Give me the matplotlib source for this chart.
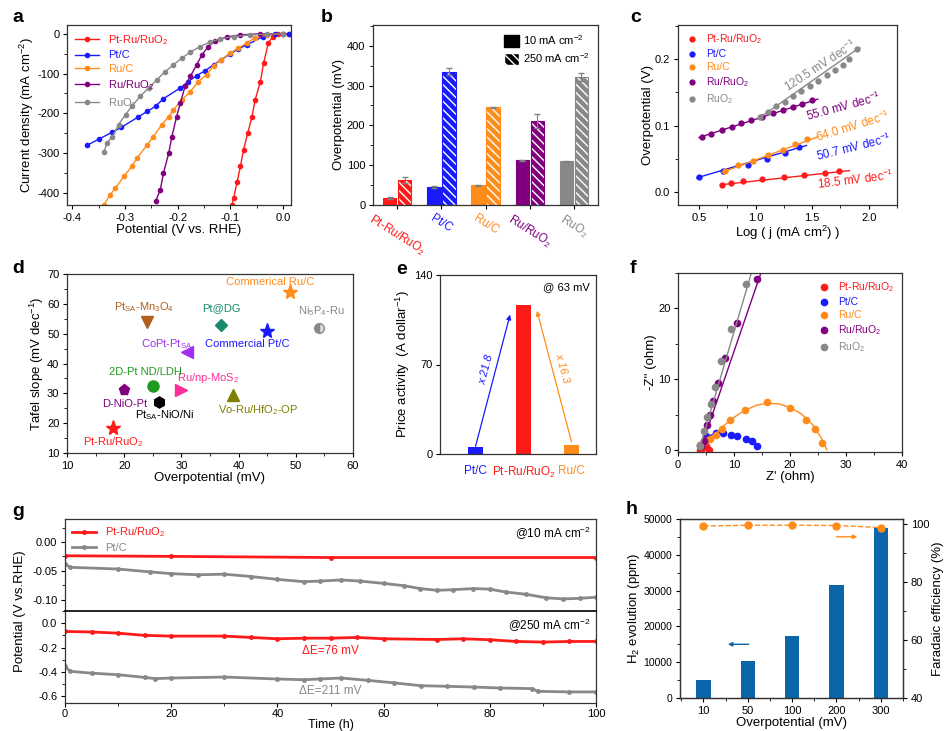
import matplotlib
matplotlib.use("Agg")
import matplotlib.pyplot as plt
from matplotlib.patches import Patch
from matplotlib.lines import Line2D
from matplotlib.ticker import MultipleLocator

plt.rcParams['font.family'] = ['Liberation Sans', 'DejaVu Sans']
plt.rcParams['mathtext.fontset'] = 'custom'
plt.rcParams['mathtext.rm'] = 'Liberation Sans'
plt.rcParams['mathtext.it'] = 'Liberation Sans:italic'
plt.rcParams['mathtext.bf'] = 'Liberation Sans:bold'
plt.rcParams['mathtext.default'] = 'regular'
plt.rcParams['axes.unicode_minus'] = False
plt.rcParams['font.size'] = 8
plt.rcParams['axes.linewidth'] = 0.9
plt.rcParams['axes.edgecolor'] = '#333333'
plt.rcParams['xtick.major.size'] = 3
plt.rcParams['ytick.major.size'] = 3
plt.rcParams['xtick.minor.size'] = 2
plt.rcParams['ytick.minor.size'] = 2
plt.rcParams['xtick.major.pad'] = 2.5
plt.rcParams['ytick.major.pad'] = 2.5
plt.rcParams['hatch.linewidth'] = 1.0

RED = '#ff1a1a'
BLUE = '#1a1aff'
ORANGE = '#ff8c1a'
PURPLE = '#800080'
GRAY = '#888888'
LAB = 9.5

# ---- a: LSV curves
a_names = ['Pt-Ru/RuO$_2$', 'Pt/C', 'Ru/C', 'Ru/RuO$_2$', 'RuO$_2$']
a_colors = [RED, BLUE, ORANGE, PURPLE, GRAY]
a_v = [
    [0.012, -0.010, -0.019, -0.028, -0.037, -0.043, -0.053, -0.059, -0.067, -0.075, -0.081, -0.087, -0.094, -0.097],
    [0.012, -0.016, -0.038, -0.069, -0.085, -0.101, -0.117, -0.132, -0.148, -0.164, -0.180, -0.195, -0.227, -0.242,
     -0.258, -0.275, -0.307, -0.324, -0.350, -0.372],
    [0.0, -0.031, -0.054, -0.069, -0.085, -0.101, -0.117, -0.132, -0.145, -0.161, -0.176, -0.192, -0.208, -0.217,
     -0.230, -0.246, -0.258, -0.277, -0.287, -0.302, -0.318, -0.328, -0.340],
    [0.0, -0.044, -0.082, -0.107, -0.129, -0.142, -0.154, -0.164, -0.176, -0.186, -0.195, -0.202, -0.211, -0.217,
     -0.227, -0.233, -0.242],
    [0.0, -0.031, -0.063, -0.094, -0.120, -0.139, -0.157, -0.176, -0.192, -0.208, -0.224, -0.239, -0.255, -0.271,
     -0.287, -0.299, -0.312, -0.324, -0.334, -0.340],
]
a_j = [
    [0, -1, -7, -23, -74, -120, -166, -208, -249, -291, -333, -371, -413, -430],
    [0, 0, -7, -28, -38, -51, -65, -78, -93, -105, -120, -136, -163, -182, -195, -209, -235, -247, -265, -280],
    [0, -3, -11, -23, -36, -49, -65, -80, -103, -120, -145, -166, -191, -208, -228, -258, -279, -312, -333, -358,
     -387, -404, -430],
    [0, 0, -3, -8, -19, -32, -53, -78, -107, -132, -174, -208, -258, -300, -350, -392, -421],
    [0, -1, -3, -7, -13, -21, -32, -46, -61, -78, -95, -115, -136, -157, -182, -203, -228, -258, -274, -297],
]

# ---- b: overpotential bars
b_cats = ['Pt-Ru/RuO$_2$', 'Pt/C', 'Ru/C', 'Ru/RuO$_2$', 'RuO$_2$']
b_eta10 = [18, 45, 49, 112, 110]
b_eta10_err = [2, 3, 2, 2, 1]
b_eta250 = [63, 335, 245, 211, 322]
b_eta250_err = [7, 8, 2, 17, 10]

# ---- c: Tafel
c_x = [
    [0.70, 0.78, 0.89, 1.06, 1.25, 1.43, 1.61, 1.74],
    [0.50, 0.71, 0.93, 1.10, 1.26, 1.38],
    [0.73, 0.84, 0.98, 1.11, 1.24, 1.35, 1.45],
    [0.53, 0.61, 0.70, 0.79, 0.87, 0.96, 1.06, 1.15, 1.24, 1.33, 1.41, 1.50],
    [1.04, 1.11, 1.18, 1.26, 1.33, 1.40, 1.48, 1.55, 1.63, 1.70, 1.77, 1.83, 1.90],
]
c_y = [
    [0.010, 0.013, 0.016, 0.019, 0.022, 0.025, 0.028, 0.031],
    [0.023, 0.032, 0.041, 0.049, 0.058, 0.068],
    [0.031, 0.040, 0.047, 0.056, 0.063, 0.072, 0.079],
    [0.083, 0.088, 0.093, 0.098, 0.104, 0.109, 0.113, 0.119, 0.124, 0.128, 0.133, 0.139],
    [0.113, 0.120, 0.129, 0.136, 0.144, 0.153, 0.160, 0.168, 0.176, 0.184, 0.192, 0.200, 0.215],
]
c_fit_x = [[0.69, 1.83], [0.48, 1.45], [0.70, 1.55], [0.50, 1.55], [1.02, 1.92]]
c_fit_y = [[0.0105, 0.032], [0.021, 0.070], [0.029, 0.083], [0.082, 0.140], [0.110, 0.218]]
c_slopes = ['18.5', '50.7', '64.0', '55.0', '120.5']

# ---- d: benchmark scatter
d_names = ['Pt-Ru/RuO$_2$', 'D-NiO-Pt', '2D-Pt ND/LDH', 'Pt$_{SA}$-NiO/Ni', 'Ru/np-MoS$_2$', 'CoPt-Pt$_{SA}$',
           'Pt$_{SA}$-Mn$_3$O$_4$', 'Pt@DG', 'Commercial Pt/C', 'Commerical Ru/C', 'Ni$_5$P$_4$-Ru',
           'Vo-Ru/HfO$_2$-OP']
d_eta = [18, 20, 25, 26, 30, 31, 24, 37, 45, 49, 54, 39]
d_tafel = [18.5, 31, 32.3, 27.2, 31, 43.7, 54, 53, 51, 64, 52, 29.3]
d_colors = [RED, PURPLE, '#1f9a1f', 'black', '#ff2d95', '#a030f0', '#b0601a', '#1a8a6a', BLUE, ORANGE,
            GRAY, '#808000']
d_markers = ['*', 'p', 'o', 'h', '>', '<', 'v', 'D', '*', '*', 'o', '^']
d_label_xy = [(18, 13.6), (20, 26.5), (23.8, 37.3), (27, 22.8), (34.6, 35.0), (27.5, 46.5), (23.5, 59),
              (37, 58.5), (41.5, 46.5), (45.5, 67.3), (54.5, 57.5), (43.5, 24.5)]

# ---- e: price activity
e_cats = ['Pt/C', 'Pt-Ru/RuO$_2$', 'Ru/C']
e_vals = [5.5, 116.7, 7.3]
e_colors = [BLUE, RED, ORANGE]

# ---- f: Nyquist
f_x = [
    [3.9, 4.3, 5.0, 5.6],
    [4.0, 5.0, 6.7, 8.0, 9.4, 10.6, 12.1, 13.2, 14.1],
    [4.0, 4.8, 5.8, 6.8, 7.8, 9.3, 12.0, 15.9, 20.0, 22.9, 24.4, 25.7],
    [4.1, 4.6, 5.2, 5.7, 6.3, 7.1, 8.4, 10.5, 14.1],
    [3.9, 4.7, 5.2, 5.9, 6.6, 7.7, 9.4, 12.1],
]
f_y = [
    [0.0, 0.3, 0.5, 0.0],
    [0.7, 1.9, 2.4, 2.4, 2.1, 2.0, 1.6, 1.2, 0.5],
    [0.7, 1.2, 1.6, 2.1, 2.9, 4.2, 5.6, 6.7, 5.9, 4.2, 2.9, 1.0],
    [0.5, 1.2, 3.5, 4.9, 6.9, 9.4, 13.0, 18.0, 24.2],
    [0.5, 2.6, 4.7, 6.5, 8.9, 12.5, 17.1, 23.5],
]
f_fit_x = [[3.9, 4.5, 5.2, 5.8], [4.5, 5.5, 6.7, 7.5],
           [4.5, 6.0, 8.0, 10.0, 12.0, 14.0, 16.0, 18.0, 20.0, 22.0, 24.0, 25.5, 26.6],
           [4.1, 14.8], [3.9, 13.1]]
f_fit_y = [[0.0, 0.35, 0.45, 0.1], [0.8, 1.9, 2.4, 2.5],
           [0.4, 1.7, 3.3, 4.6, 5.6, 6.3, 6.6, 6.5, 6.0, 5.1, 3.6, 1.8, 0.0],
           [0.3, 25.0], [0.3, 25.0]]

# ---- g: stability
g_t_red10 = [0, 20, 50, 100]
g_red10 = [-0.024, -0.025, -0.027, -0.027]
g_t_gray10 = [0, 1, 10, 16, 20, 25, 30, 35, 40, 45, 48, 52, 55.6, 60, 63.8, 66.9, 70, 73, 76.9, 80, 83, 86.9,
              90.6, 93.8, 96.9, 100]
g_gray10 = [-0.038, -0.044, -0.047, -0.052, -0.055, -0.057, -0.056, -0.060, -0.065, -0.069, -0.068, -0.066,
            -0.068, -0.072, -0.076, -0.081, -0.084, -0.083, -0.081, -0.082, -0.087, -0.091, -0.097, -0.099,
            -0.098, -0.096]
g_t_red250 = [0, 5, 10, 15, 20, 30, 35, 40, 45, 50, 55, 60, 70, 75, 80, 85, 90, 95, 100]
g_red250 = [-0.068, -0.072, -0.082, -0.100, -0.106, -0.106, -0.117, -0.128, -0.123, -0.123, -0.117, -0.128,
            -0.134, -0.128, -0.136, -0.150, -0.155, -0.150, -0.150]
g_t_gray250 = [0, 1, 5, 10, 15, 17, 20, 30, 40, 45, 48, 52, 57, 62, 67, 72, 77, 82, 88, 89, 95, 100]
g_gray250 = [-0.355, -0.395, -0.410, -0.423, -0.445, -0.455, -0.450, -0.442, -0.458, -0.464, -0.458, -0.450,
             -0.469, -0.490, -0.513, -0.518, -0.524, -0.532, -0.537, -0.559, -0.564, -0.564]

# ---- h: H2 evolution / FE
h_cats = ['10', '50', '100', '200', '300']
h_ppm = [5140, 10470, 17200, 31500, 47570]
h_fe = [99.4, 99.7, 99.7, 99.6, 98.9]

W, H = 951, 731
fig = plt.figure(figsize=(W / 100, H / 100), dpi=100)


def px_axes(l, t, r, b):
    return fig.add_axes([l / W, 1 - b / H, (r - l) / W, (b - t) / H])


def panel_label(x, y, s):
    fig.text(x / W, 1 - y / H, s, fontsize=14, fontweight='bold', va='center', ha='left')


# a
ax = px_axes(67, 25, 291, 205)
for v, j, c, n in zip(a_v, a_j, a_colors, a_names):
    ax.plot(v, j, '-o', color=c, ms=3, lw=1, label=n)
ax.set_xlim(-0.41, 0.015)
ax.set_ylim(-430, 22)
ax.xaxis.set_major_locator(MultipleLocator(0.1))
ax.xaxis.set_minor_locator(MultipleLocator(0.05))
ax.yaxis.set_major_locator(MultipleLocator(100))
ax.yaxis.set_minor_locator(MultipleLocator(50))
ax.xaxis.set_major_formatter(lambda x, p: f'{x:.1f}')
ax.set_xlabel('Potential (V vs. RHE)', fontsize=LAB, labelpad=1)
ax.set_ylabel('Current density (mA cm$^{-2}$)', fontsize=LAB, labelpad=1)
leg = ax.legend(loc='upper left', frameon=False, fontsize=8, handlelength=2.2, labelspacing=0.35,
                borderaxespad=0.3)
for t, c in zip(leg.get_texts(), a_colors):
    t.set_color(c)
panel_label(12, 18, 'a')

# b
ax = px_axes(373, 25, 598, 205)
xs = range(len(b_cats))
for i, c in enumerate(a_colors):
    ax.bar(i - 0.17, b_eta10[i], 0.3, color=c, edgecolor=c, lw=0.8)
    ax.bar(i + 0.17, b_eta250[i], 0.3, color=c, edgecolor='white', hatch='\\\\\\\\', lw=0)
    ax.bar(i + 0.17, b_eta250[i], 0.3, fill=False, edgecolor=c, lw=0.8)
    ax.errorbar(i - 0.17, b_eta10[i], yerr=b_eta10_err[i], color='gray', capsize=2, lw=0.8)
    ax.errorbar(i + 0.17, b_eta250[i], yerr=b_eta250_err[i], color='gray', capsize=2, lw=0.8)
ax.set_xlim(-0.55, 4.55)
ax.set_ylim(0, 452)
ax.set_xticks(list(xs))
ax.set_xticklabels(b_cats, rotation=-32, ha='center', va='top', fontsize=8.5)
for t, c in zip(ax.get_xticklabels(), a_colors):
    t.set_color(c)
ax.yaxis.set_major_locator(MultipleLocator(100))
ax.yaxis.set_minor_locator(MultipleLocator(50))
ax.set_ylabel('Overpotential (mV)', fontsize=LAB, labelpad=1)
hb = [Patch(facecolor='black', edgecolor='black'),
      Patch(facecolor='black', edgecolor='white', hatch='\\\\\\\\')]
ax.legend(hb, ['10 mA cm$^{-2}$', '250 mA cm$^{-2}$'], loc='upper right', frameon=False, fontsize=8,
          handlelength=1.3, handleheight=1.3, labelspacing=0.35, borderaxespad=0.3, handletextpad=0.4)
panel_label(321, 18, 'b')

# c
ax = px_axes(678, 25, 897, 205)
for x, y, fx, fy, c, n in zip(c_x, c_y, c_fit_x, c_fit_y, a_colors, a_names):
    ax.plot(x, y, 'o', color=c, ms=3.5, label=n)
    ax.plot(fx, fy, '-', color=c, lw=1)
c_text = [(1.88, 0.018, 7), (1.87, 0.067, 14), (1.86, 0.099, 17), (1.78, 0.128, 15), (1.57, 0.19, 33)]
for (tx, ty, rot), s, c in zip(c_text, c_slopes, a_colors):
    ax.text(tx, ty, s + ' mV dec$^{-1}$', color=c, rotation=rot, ha='center', va='center', fontsize=8.5,
            rotation_mode='anchor')
ax.set_xlim(0.314, 2.25)
ax.set_ylim(-0.02, 0.252)
ax.xaxis.set_major_locator(MultipleLocator(0.5))
ax.xaxis.set_minor_locator(MultipleLocator(0.25))
ax.yaxis.set_major_locator(MultipleLocator(0.1))
ax.yaxis.set_minor_locator(MultipleLocator(0.05))
ax.yaxis.set_major_formatter(lambda x, p: f'{x:.1f}')
ax.set_xlabel('Log ( j (mA cm$^2$) )', fontsize=LAB, labelpad=1)
ax.set_ylabel('Overpotential (V)', fontsize=LAB, labelpad=1)
leg = ax.legend(loc='upper left', frameon=False, fontsize=7.5, handlelength=1.2, labelspacing=0.3,
                borderaxespad=0.3)
for t, c in zip(leg.get_texts(), a_colors):
    t.set_color(c)
panel_label(630, 18, 'c')

# d
ax = px_axes(67, 274, 353, 453)
for i in range(len(d_names)):
    ms = 11 if d_markers[i] == '*' else 8
    if i == 10:
        ax.plot(d_eta[i], d_tafel[i], 'o', ms=7, color=GRAY, fillstyle='left', markerfacecoloralt='#dddddd',
                mec=GRAY)
    else:
        ax.plot(d_eta[i], d_tafel[i], d_markers[i], ms=ms if d_markers[i] != 'D' else 6.5, color=d_colors[i])
    lx, ly = d_label_xy[i]
    ax.text(lx, ly, d_names[i], color=d_colors[i], ha='center', va='center', fontsize=8)
ax.set_xlim(10, 60)
ax.set_ylim(10, 70)
ax.xaxis.set_minor_locator(MultipleLocator(5))
ax.yaxis.set_minor_locator(MultipleLocator(5))
ax.set_xlabel('Overpotential (mV)', fontsize=LAB, labelpad=1)
ax.set_ylabel('Tafel slope (mV dec$^{-1}$)', fontsize=LAB, labelpad=1)
panel_label(12, 268, 'd')

# e
ax = px_axes(440, 275, 596, 454)
ax.bar(range(3), e_vals, 0.31, color=e_colors)
ax.set_xlim(-0.74, 2.51)
ax.set_ylim(0, 140)
ax.set_yticks([0, 70, 140])
ax.set_xticks(range(3))
ax.set_xticklabels(e_cats, fontsize=8.5)
ax.tick_params(axis='x', length=0, pad=8)
for t, c in zip(ax.get_xticklabels(), e_colors):
    t.set_color(c)
ax.annotate('', xy=(0.72, 109), xytext=(0.0, 6),
            arrowprops=dict(arrowstyle='-|>', color=BLUE, lw=0.9, mutation_scale=7, shrinkA=0, shrinkB=0))
ax.annotate('', xy=(1.28, 112), xytext=(2.0, 9.5),
            arrowprops=dict(arrowstyle='-|>', color=ORANGE, lw=0.9, mutation_scale=7, shrinkA=0, shrinkB=0))
ax.text(0.22, 66, 'x 21.8', color=BLUE, rotation=75, ha='center', va='center', fontsize=8, style='italic')
ax.text(1.80, 67, 'x 16.3', color=ORANGE, rotation=-75, ha='center', va='center', fontsize=8, style='italic')
ax.text(0.96, 0.96, '@ 63 mV', transform=ax.transAxes, ha='right', va='top', fontsize=8)
ax.set_ylabel('Price activity  (A dollar$^{-1}$)', fontsize=LAB, labelpad=1)
panel_label(396, 270, 'e')

# f
ax = px_axes(678, 273, 902, 452)
for x, y, fx, fy, c, n in zip(f_x, f_y, f_fit_x, f_fit_y, a_colors, a_names):
    ax.plot(fx, fy, '-', color=c, lw=1)
    ax.plot(x, y, 'o', color=c, ms=4.5, label=n)
ax.set_xlim(0, 40)
ax.set_ylim(-0.3, 25)
ax.xaxis.set_major_locator(MultipleLocator(10))
ax.xaxis.set_minor_locator(MultipleLocator(5))
ax.yaxis.set_major_locator(MultipleLocator(10))
ax.yaxis.set_minor_locator(MultipleLocator(5))
ax.set_xlabel("Z' (ohm)", fontsize=LAB, labelpad=1)
ax.set_ylabel("-Z'' (ohm)", fontsize=LAB, labelpad=1)
fh = [Line2D([], [], ls='', marker='o', ms=4.5, color=c) for c in a_colors]
leg = ax.legend(fh, a_names, loc='upper right', frameon=False, fontsize=7.5, handlelength=1.2,
                labelspacing=0.3, borderaxespad=0.3)
for t, c in zip(leg.get_texts(), a_colors):
    t.set_color(c)
panel_label(630, 268, 'f')

# g
ax1 = px_axes(65, 519, 596, 611)
ax2 = px_axes(65, 611, 596, 703)
ax1.plot(g_t_red10, g_red10, '-o', color=RED, ms=2.5, lw=2, label='Pt-Ru/RuO$_2$')
ax1.plot(g_t_gray10, g_gray10, '-o', color=GRAY, ms=2.5, lw=2, label='Pt/C')
ax2.plot(g_t_red250, g_red250, '-o', color=RED, ms=2.5, lw=2)
ax2.plot(g_t_gray250, g_gray250, '-o', color=GRAY, ms=2.5, lw=2)
for a in (ax1, ax2):
    a.set_xlim(0, 100)
    a.xaxis.set_major_locator(MultipleLocator(20))
    a.xaxis.set_minor_locator(MultipleLocator(10))
ax1.set_ylim(-0.12, 0.04)
ax1.yaxis.set_major_locator(MultipleLocator(0.05))
ax1.yaxis.set_minor_locator(MultipleLocator(0.025))
ax1.yaxis.set_major_formatter(lambda x, p: f'{x:.2f}')
ax1.tick_params(axis='x', labelbottom=False, length=0, which='both')
ax1.spines['bottom'].set_visible(False)
ax2.spines['top'].set_linewidth(1.2)
ax2.spines['top'].set_color('black')
ax2.set_ylim(-0.655, 0.1)
ax2.yaxis.set_major_locator(MultipleLocator(0.2))
ax2.yaxis.set_minor_locator(MultipleLocator(0.1))
ax2.yaxis.set_major_formatter(lambda x, p: f'{x:.1f}')
ax2.tick_params(axis='x', pad=1.5)
ax2.set_xlabel('Time (h)', fontsize=9, labelpad=0)
leg = ax1.legend(loc='upper left', frameon=False, fontsize=8, handlelength=2.2, labelspacing=0.3,
                 borderaxespad=0.2)
for t, c in zip(leg.get_texts(), [RED, GRAY]):
    t.set_color(c)
ax1.text(0.99, 0.93, '@10 mA cm$^{-2}$', transform=ax1.transAxes, ha='right', va='top', fontsize=8.5)
ax2.text(0.99, 0.93, '@250 mA cm$^{-2}$', transform=ax2.transAxes, ha='right', va='top', fontsize=8.5)
ax2.text(50, -0.225, '\u0394E=76 mV', color=RED, ha='center', va='center', fontsize=8.5)
ax2.text(50, -0.56, '\u0394E=211 mV', color=GRAY, ha='center', va='center', fontsize=8.5)
fig.text(20 / W, 1 - 611 / H, 'Potential (V vs.RHE)', rotation=90, ha='center', va='center', fontsize=LAB)
panel_label(12, 512, 'g')

# h
ax = px_axes(680, 519, 903, 698)
ax.bar(range(5), h_ppm, 0.32, color='#0a66a8')
ax.set_xlim(-0.53, 4.5)
ax.set_ylim(0, 50000)
ax.set_xticks(range(5))
ax.set_xticklabels(h_cats)
ax.xaxis.set_minor_locator(MultipleLocator(0.5))
ax.yaxis.set_major_locator(MultipleLocator(10000))
ax.yaxis.set_minor_locator(MultipleLocator(5000))
ax.tick_params(axis='y', labelsize=7.5)
ax.set_xlabel('Overpotential (mV)', fontsize=LAB, labelpad=1)
ax.set_ylabel('H$_2$ evolution (ppm)', fontsize=LAB, labelpad=1)
ax.annotate('', xy=(0.55, 15000), xytext=(1.02, 15000),
            arrowprops=dict(arrowstyle='-|>', color='#0a66a8', lw=1, mutation_scale=6, shrinkA=0, shrinkB=0))
axr = ax.twinx()
axr.plot(range(5), h_fe, '--o', color=ORANGE, ms=5, lw=1)
axr.set_ylim(40, 101.85)
axr.yaxis.set_major_locator(MultipleLocator(20))
axr.yaxis.set_minor_locator(MultipleLocator(10))
axr.set_ylabel('Faradaic efficiency (%)', fontsize=LAB, labelpad=2)
axr.annotate('', xy=(3.47, 95.7), xytext=(3.0, 95.7),
             arrowprops=dict(arrowstyle='-|>', color=ORANGE, lw=1, mutation_scale=6, shrinkA=0, shrinkB=0))
panel_label(626, 509, 'h')

fig.savefig('out.png', dpi=100)
